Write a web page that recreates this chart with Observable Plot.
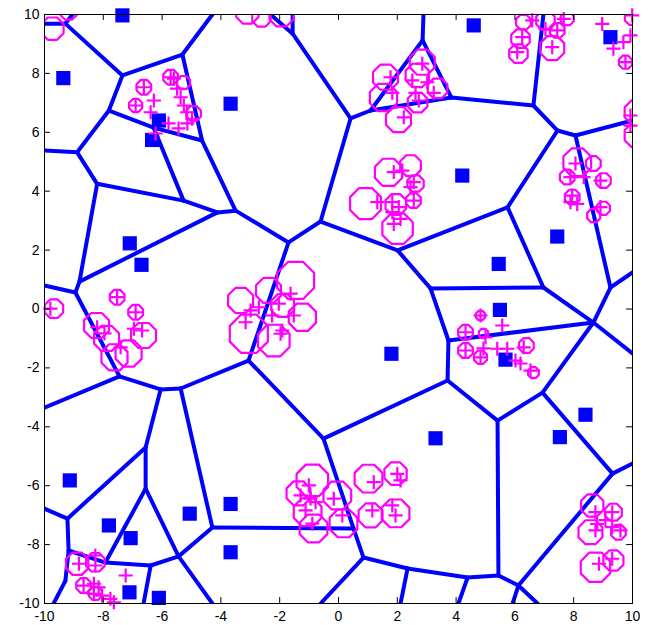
<!DOCTYPE html>
<html><head><meta charset="utf-8">
<script src="https://cdn.jsdelivr.net/npm/d3@7"></script>
<script src="https://cdn.jsdelivr.net/npm/@observablehq/plot@0.6"></script>
<style>body{margin:0;background:#fff}</style>
</head><body><div id="chart"></div>
<script>
// Cell boundary vertices (data units)
const vertices = [
 ["P1",-9.29,9.69],["P2",-7.35,7.93],["P3",-5.31,8.64],["P4",-4.64,5.72],["P5",-7.81,6.74],["P6",-6.29,6.16],
 ["P7",-8.89,5.32],["P10",-8.21,4.25],["P8",-5.27,3.68],["P9a",-4.12,3.28],["P9b",-3.50,3.34],["DD",-1.70,2.26],
 ["CC",-0.61,2.97],["Q",0.41,6.47],["Q0",-1.56,9.35],["Q2",1.09,6.74],["R",2.86,9.12],["S",3.84,7.18],
 ["T",6.63,6.91],["U",7.45,6.06],["U2",8.06,5.89],["V",5.75,3.45],["BB",2.01,1.99],["AA",3.13,0.70],
 ["X",6.97,0.73],["W2",9.25,0.73],["Y",8.67,-0.46],["Z1",3.74,-1.07],["Z2",3.71,-2.43],["Y2",6.94,-2.84],
 ["JJ",5.41,-3.79],["LL",9.32,-5.59],["KK",5.44,-9.05],["NN",4.39,-9.12],["MM",6.12,-9.39],["HH",2.35,-8.81],
 ["GG",0.85,-8.44],["FF",-0.51,-4.40],["EE",-3.06,-1.75],["II",0.51,-7.45],["PP1",-8.81,0.93],["PP2",-8.95,0.56],
 ["OO",-7.45,-2.29],["QQ",-6.05,-2.73],["RR",-5.37,-2.70],["SS",-6.56,-4.70],["TT",-6.56,-6.10],["XX",-4.29,-7.42],
 ["WW",-5.44,-8.40],["YY",-6.39,-8.71],["VV",-7.93,-8.61],["ZZ",-9.18,-8.20],["ZZ2",-9.29,-9.23],["UU",-9.22,-7.12],
 ["bL1",-10,9.69],["bT1",-9.05,10],["bT3",-4.29,10],["bTQa",-2.31,10],["bTQb",-1.56,10],["bTR",2.89,10],
 ["bTT",6.97,10],["bL7",-10,5.38],["bLPP",-10,0.80],["bLOO",-10,-3.35],["bLUU",-10,-6.78],["bBZZ",-9.69,-10],
 ["bBYY",-6.63,-10],["bBWW",-4.29,-10],["bBGG",-0.61,-10],["bBHH",2.11,-10],["bBNN",4.08,-10],["bBMMa",5.92,-10],
 ["bBMMb",6.77,-10],["bRU2",10,6.4],["bRW2",10,1.24],["bRY",10,-1.51],["bRLL",10,-5.25]
];
const edges = [
 ["P1","bL1"],["P1","bT1"],["P1","P2"],["P2","P3"],["P2","P5"],["P3","bT3"],["P3","P4"],
 ["P5","P6"],["P5","P7"],["P6","P4"],["P6","P8"],["P4","P9b"],["P7","bL7"],["P7","P10"],
 ["P10","P8"],["P10","PP1"],["P8","P9a"],["P9a","P9b"],["P9a","PP1"],["P9b","DD"],
 ["DD","CC"],["DD","EE"],["CC","Q"],["CC","BB"],["Q","Q0"],["Q","Q2"],["Q0","bTQa"],["Q0","bTQb"],
 ["Q2","R"],["Q2","S"],["R","bTR"],["R","S"],["S","T"],["T","bTT"],["T","U"],["U","V"],["U","U2"],
 ["U2","bRU2"],["U2","W2"],["V","BB"],["V","X"],["BB","AA"],["AA","X"],["AA","Z1"],["X","Y"],
 ["W2","bRW2"],["W2","Y"],["Y","Z1"],["Y","bRY"],["Y","Y2"],["Z1","Z2"],["Z2","FF"],["Z2","JJ"],
 ["Y2","JJ"],["Y2","LL"],["LL","bRLL"],["LL","MM"],["JJ","KK"],["KK","MM"],["KK","NN"],
 ["NN","HH"],["NN","bBNN"],["MM","bBMMa"],["MM","bBMMb"],["HH","GG"],["HH","bBHH"],["GG","II"],
 ["GG","bBGG"],["II","FF"],["II","XX"],["FF","EE"],["EE","RR"],["PP1","PP2"],["PP2","bLPP"],
 ["PP2","OO"],["OO","bLOO"],["OO","QQ"],["QQ","RR"],["QQ","SS"],["RR","XX"],["SS","UU"],["SS","TT"],
 ["TT","VV"],["TT","WW"],["XX","WW"],["WW","bBWW"],["WW","YY"],["YY","bBYY"],["YY","VV"],
 ["VV","ZZ"],["ZZ","UU"],["ZZ","ZZ2"],["ZZ2","bBZZ"],["UU","bLUU"]
];
// Blue square sites
const squares = [
 [-7.35,9.97],[-9.36,7.84],[-3.67,6.97],[-6.11,6.40],[-6.34,5.74],[4.60,9.63],[9.25,9.23],[4.21,4.53],
 [7.44,2.46],[5.45,1.53],[5.49,-0.03],[5.68,-1.72],[1.80,-1.52],[-7.10,2.23],[-6.70,1.50],[8.40,-3.59],
 [7.53,-4.35],[3.30,-4.39],[-9.14,-5.82],[-7.81,-7.35],[-7.07,-7.78],[-5.06,-6.95],[-3.67,-6.62],
 [-3.67,-8.26],[-7.11,-9.62],[-6.11,-9.81]
];
// Magenta plus samples
const pluses = [
 [-6.62,7.53],[-6.90,6.91],[-6.28,7.08],[-6.39,6.68],[-5.71,7.87],[-5.60,7.82],[-5.49,7.48],[-5.37,7.19],
 [-5.26,6.91],[-5.15,6.68],[-4.98,6.46],[-5.78,6.30],[-5.44,6.13],[-5.14,6.30],[-6.22,5.96],
 [2.85,8.33],[1.77,7.87],[2.51,7.76],[3.02,7.70],[1.83,7.34],[2.62,7.34],[3.24,7.34],[2.73,7.08],[2.22,6.51],
 [1.88,4.65],[2.17,4.70],[2.56,4.31],[2.45,4.14],[2.56,3.68],[1.32,3.63],[1.83,3.63],[2.05,3.46],[1.83,3.29],
 [2.11,3.06],[1.88,2.89],
 [6.59,9.80],[7.66,9.85],[7.04,9.51],[7.44,9.46],[6.25,9.23],[7.27,8.89],[6.08,8.72],
 [8.97,9.68],[9.99,9.97],[9.93,9.29],[9.69,9.06],[9.35,8.84],[9.76,8.38],[9.93,6.57],[9.93,6.23],
 [7.89,4.48],[8.34,4.48],[8.91,4.36],[7.95,3.85],[8.12,3.57],[8.91,3.46],[7.89,3.63],[8.06,4.94],
 [-1.63,0.52],[-2.03,0.18],[-1.52,-0.22],[-2.26,-0.22],[-2.71,0.06],[-2.99,-0.05],[-3.16,-0.45],[-1.91,-0.73],[-1.97,-0.84],
 [-9.80,0.01],[-7.53,0.40],[-6.90,-0.11],[-6.96,-0.67],[-6.68,-0.73],[-7.41,-1.30],[-8.21,-0.62],[-7.96,-0.83],
 [4.83,-0.22],[4.32,-0.79],[4.32,-1.41],[5.57,-0.56],[5.00,-0.96],[4.93,-1.34],[5.40,-1.35],[5.74,-1.35],
 [6.02,-1.75],[6.30,-1.30],[6.53,-2.09],[4.83,-1.64],[6.19,-1.85],
 [-1.01,-5.99],[-1.29,-6.33],[-0.95,-6.43],[-0.78,-6.56],[-0.89,-7.29],[-0.16,-6.44],[0.13,-7.01],[1.20,-5.88],
 [2.00,-5.60],[2.11,-5.82],[1.15,-6.84],[1.83,-6.67],[1.94,-7.01],[-1.12,-6.84],
 [8.74,-6.90],[9.31,-6.90],[8.80,-7.30],[8.74,-7.52],[9.31,-7.41],[9.59,-7.52],[9.31,-8.48],[8.86,-8.65],[9.08,-7.17],
 [-8.83,-8.65],[-8.27,-8.71],[-8.67,-9.39],[-8.32,-9.33],[-8.16,-9.45],[-8.32,-9.67],[-8.04,-9.73],[-7.76,-9.84],
 [-7.64,-9.96],[-7.24,-9.05],[-8.27,-8.37]
];
// Magenta uncertainty rings: centre x, centre y, radius (data units)
const rings = [
 [-6.62,7.53,0.27],[-6.90,6.91,0.24],[-5.71,7.87,0.27],[-5.27,7.69,0.24],[-4.93,6.64,0.27],
 [-9.73,9.52,0.41],[-9.18,10.1,0.30],[-3.10,10.07,0.41],[-2.62,9.90,0.34],[-1.94,10.0,0.44],
 [2.85,8.38,0.46],[1.60,7.87,0.46],[1.53,7.18,0.50],[2.68,7.93,0.43],[3.37,7.49,0.36],[2.04,6.43,0.46],[2.69,7.01,0.36],
 [1.70,4.64,0.50],[0.92,3.58,0.57],[2.01,2.73,0.56],[2.45,4.87,0.38],[2.62,4.26,0.30],[2.55,3.68,0.27],[1.95,3.55,0.38],
 [6.29,9.74,0.27],[6.19,9.18,0.34],[6.12,8.67,0.34],[7.27,8.86,0.44],[7.78,9.86,0.24],[7.04,9.80,0.34],[7.44,9.46,0.27],
 [9.76,8.38,0.24],[9.99,9.90,0.27],[10.14,6.68,0.44],[10.14,5.90,0.44],
 [8.12,4.98,0.51],[8.67,4.94,0.27],[9.01,4.36,0.27],[7.95,3.80,0.27],[9.01,3.42,0.24],[7.78,4.48,0.27],[8.68,3.17,0.24],
 [-1.46,0.97,0.68],[-1.23,-0.28,0.50],[-2.20,-1.07,0.58],[-3.05,-0.84,0.70],[-2.38,0.63,0.46],[-3.33,0.29,0.46],[-1.90,0.12,0.42],
 [-9.68,0.01,0.34],[-7.53,0.40,0.27],[-6.90,-0.11,0.27],[-8.23,-0.56,0.46],[-7.89,-1.00,0.46],[-7.62,-1.64,0.48],
 [-7.14,-1.51,0.48],[-6.63,-0.90,0.46],
 [4.83,-0.22,0.17],[4.32,-0.79,0.27],[4.32,-1.41,0.27],[4.93,-0.83,0.17],[4.83,-1.64,0.24],[6.39,-1.24,0.27],[6.63,-2.16,0.20],
 [-0.89,-5.82,0.58],[-1.36,-6.26,0.44],[-0.04,-6.33,0.51],[-0.85,-7.45,0.51],[0.17,-7.28,0.51],[1.02,-5.76,0.51],
 [1.94,-5.59,0.41],[1.09,-7.01,0.44],[1.94,-6.94,0.51],[-1.05,-6.90,0.51],
 [8.63,-6.67,0.41],[9.35,-6.90,0.31],[8.57,-7.58,0.44],[9.52,-7.58,0.27],[8.74,-8.77,0.54],[9.35,-8.54,0.37],
 [-8.89,-8.65,0.41],[-8.27,-8.60,0.34],[-8.67,-9.39,0.27],[-8.27,-9.66,0.24]
];
const ticks = [-10,-8,-6,-4,-2,0,2,4,6,8,10];

const V = new Map(vertices.map(([n,x,y]) => [n,{x,y}]));
const segs = edges.map(([a,b]) => ({x1:V.get(a).x, y1:V.get(a).y, x2:V.get(b).x, y2:V.get(b).y}));
const ringPts = rings.flatMap(([cx,cy,r],i) => d3.range(8).map(k => {
  const a = (k + 0.5) / 8 * 2 * Math.PI;
  return {i, x: cx + r*Math.cos(a), y: cy + r*Math.sin(a)};
}));
const fmt = d => d < 0 ? "-" + (-d) : String(d);
const blue = "#0000ff", mag = "#ff00ff";

const chart = Plot.plot({
  width: 653, height: 625,
  marginLeft: 44, marginRight: 21, marginTop: 14, marginBottom: 22,
  x: {domain: [-10, 10]}, y: {domain: [-10, 10]},
  style: {fontFamily: "'Liberation Sans', Arial, Helvetica, sans-serif", fontSize: "14px", color: "black", background: "white", overflow: "visible"},
  marks: [
    Plot.link(segs, {x1: "x1", y1: "y1", x2: "x2", y2: "y2", stroke: blue, strokeWidth: 4, strokeLinecap: "round", clip: "frame"}),
    Plot.dot(squares, {x: d => d[0], y: d => d[1], symbol: "square", r: 8, fill: blue, stroke: "none"}),
    Plot.line(ringPts, {x: "x", y: "y", z: "i", curve: "linear-closed", stroke: mag, strokeWidth: 2.2, fill: "none", clip: "frame"}),
    Plot.dot(pluses, {x: d => d[0], y: d => d[1], symbol: "plus", r: 4.6, stroke: mag, strokeWidth: 2.2}),
    Plot.ruleX(ticks, {x: d => d, y1: -10, y2: -9.8, stroke: "black"}),
    Plot.ruleX(ticks, {x: d => d, y1: 10, y2: 9.8, stroke: "black"}),
    Plot.ruleY(ticks, {y: d => d, x1: -10, x2: -9.8, stroke: "black"}),
    Plot.ruleY(ticks, {y: d => d, x1: 10, x2: 9.8, stroke: "black"}),
    Plot.axisX({ticks, tickSize: 0, tickPadding: 8, tickFormat: fmt, label: null, fontSize: 14}),
    Plot.axisY({ticks, tickSize: 0, tickPadding: 5, tickFormat: fmt, label: null, fontSize: 14}),
    Plot.frame({stroke: "black", strokeWidth: 1})
  ]
});
document.getElementById("chart").append(chart);
</script>
</body></html>
